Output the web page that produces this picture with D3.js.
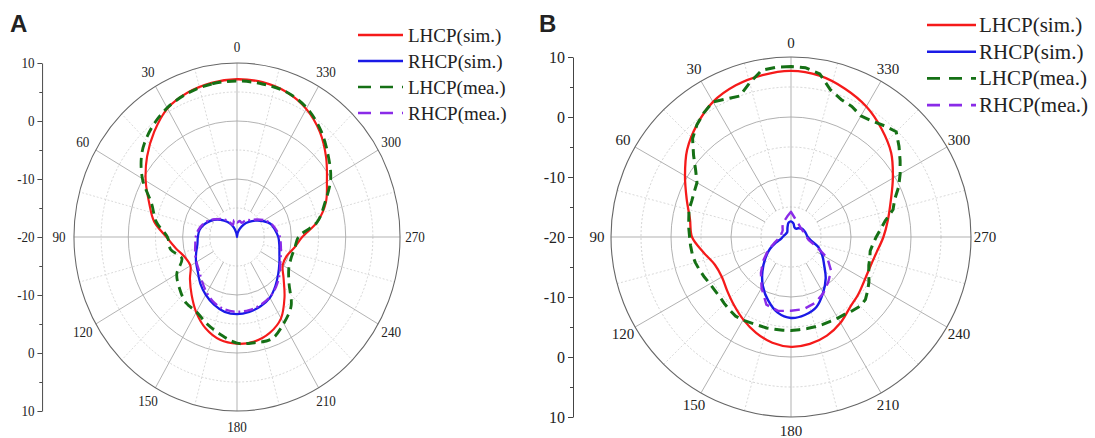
<!DOCTYPE html>
<html>
<head>
<meta charset="utf-8">
<script src="https://cdn.jsdelivr.net/npm/d3@7"></script>
<style>
  body { margin: 0; background: #fff; }
  svg text { font-family: "Liberation Serif", "Times New Roman", serif; fill: #222; }
</style>
</head>
<body>
<svg id="chart" width="1095" height="438"></svg>
<script>
// ---- data (angle in degrees, gain in dB) ----
const angles10 = [0,10,20,30,40,50,60,70,80,90,100,110,120,130,140,150,160,170,
                  180,190,200,210,220,230,240,250,260,270,280,290,300,310,320,330,340,350];
const angles5 = [0,5,10,15,20,25,30,35,40,45,50,55,60,65,70,75,80,85,90,95,100,105,110,115,
                 120,125,130,135,140,145,150,155,160,165,170,175,180,185,190,195,200,205,210,215,
                 220,225,230,235,240,245,250,255,260,265,270,275,280,285,290,295,300,305,310,315,
                 320,325,330,335,340,345,350,355];

// panel A
const lhcpSimA = [7.2,7.0,6.5,5.6,3.7,1.6,-0.6,-2.8,-4.5,-7.0,-8.6,-9.8,-10.1,-8.7,-7.0,-5.0,-3.2,-2.0,
                  -1.6,-1.7,-2.4,-3.8,-6.4,-8.8,-10.3,-10.3,-9.3,-8.0,-5.0,-2.6,-0.9,1.4,3.7,5.5,6.6,7.1];
const rhcpSimA = [-20,-19.3,-18.2,-17.2,-16.3,-15.3,-14.4,-13.6,-13.0,-12.8,-12.6,-12.0,-11.3,-10.6,-9.5,-8.5,-7.6,-6.9,
                  -6.7,-6.9,-7.3,-7.9,-9.0,-10.1,-11.0,-11.7,-12.1,-12.4,-12.9,-13.4,-14.5,-15.6,-16.6,-17.5,-18.5,-19.3];
const lhcpMeaA = [6.9,6.8,6.4,5.7,4.5,2.8,0.1,-3.3,-4.9,-7.2,-7.6,-9.2,-7.2,-6.2,-5.3,-5.1,-4.0,-2.9,
                  -1.7,-1.5,-1.3,-2.8,-4.5,-7.5,-9.0,-9.4,-9.2,-8.7,-5.0,-2.8,-0.1,1.9,4.0,5.7,6.6,6.8];
const rhcpMeaA = [-17.5,-17.0,-17.8,-16.8,-16.0,-15.2,-14.2,-13.4,-12.8,-12.4,-12.2,-11.8,-11.4,-10.9,-10.0,-8.9,-7.9,-7.3,
                  -7.1,-7.2,-7.5,-8.0,-8.8,-9.8,-10.8,-11.4,-11.8,-12.1,-12.7,-13.3,-14.2,-15.3,-16.2,-16.6,-17.4,-17.2];

// panel B
const lhcpSimB = [7.7,7.4,6.9,6.0,4.4,2.6,0.4,-1.5,-2.9,-3.5,-5.2,-6.5,-6.7,-6.1,-5.2,-4.1,-3.0,-2.1,
                  -1.7,-1.9,-2.5,-3.5,-4.7,-5.3,-5.8,-5.9,-5.5,-4.6,-3.6,-2.3,-0.4,1.8,3.5,5.1,6.3,7.3];
const rhcpSimB = [-17.4,-17.6,-18.3,-18.8,-19.0,-19.0,-19.0,-18.9,-18.8,-18.6,-18.3,-17.4,-15.9,-14.4,-12.6,-10.6,-8.8,-7.2,
                  -6.5,-6.8,-7.6,-9.3,-11.0,-12.8,-14.0,-15.2,-16.6,-17.2,-17.4,-17.5,-17.6,-17.8,-18.1,-18.4,-18.3,-17.7];
const lhcpMeaB = [8.4,8.4,8.2,6.6,5.0,5.4,6.0,5.3,4.4,3.2,1.2,-0.6,-1.9,-2.2,-2.4,-2.4,-2.7,-2.9,
                  -3.1,-3.2,-3.3,-3.5,-3.8,-4.1,-4.4,-4.5,-4.5,-4.3,-4.1,-3.9,-4.0,-4.2,-4.3,-4.3,-4.4,-4.4,
                  -4.4,-4.5,-4.5,-4.5,-4.5,-4.5,-4.4,-4.3,-4.0,-3.7,-3.8,-4.4,-5.0,-5.7,-6.2,-6.4,-6.6,-6.3,
                  -5.8,-5.0,-4.0,-2.4,-1.6,-0.2,1.0,2.2,3.5,4.8,4.2,3.6,3.3,4.0,4.4,5.4,7.6,8.3];
const rhcpMeaB = [-15.8,-16.5,-17.0,-17.3,-17.8,-18.2,-18.3,-18.3,-18.4,-18.2,-17.8,-17.0,-15.6,-14.0,-12.2,-10.2,-8.0,-7.5,
                  -7.7,-7.8,-8.3,-9.2,-10.3,-11.3,-13.0,-15.6,-17.0,-17.4,-17.6,-17.7,-17.8,-17.8,-17.7,-17.5,-17.2,-16.7];

const angleLabels = [0,30,60,90,120,150,180,210,240,270,300,330];
const radialTickLabels = ["10","0","-10","-20","-10","0","10"];
const legendLabels = ["LHCP(sim.)","RHCP(sim.)","LHCP(mea.)","RHCP(mea.)"];

// ---- styles ----
const seriesStyle = [
  { color: "#f51a1a", width: 2.3, dash: null },
  { color: "#1a1ae6", width: 2.4, dash: null },
  { color: "#157015", width: 3,   dash: "10,6" },
  { color: "#8a2be8", width: 2.4, dash: "10,4,2,4" }
];

const panels = [
  {
    name: "A", cx: 237, cy: 237, R: 174, sx: 0.937, axisX: -208,
    labelSize: 14, labelGap: 16, tickSize: 14, nameX: 10,
    legend: { x1: 358, x2: 403, tx: 408, y0: 35, dy: 26, size: 19 },
    series: [
      { ang: angles10, val: lhcpSimA, curve: d3.curveCatmullRomClosed, st: 0 },
      { ang: angles10, val: rhcpSimA, curve: d3.curveCatmullRomClosed, st: 1 },
      { ang: angles10, val: lhcpMeaA, curve: d3.curveCatmullRomClosed, st: 2 },
      { ang: angles10, val: rhcpMeaA, curve: d3.curveCatmullRomClosed, st: 3 }
    ],
    purpleDash: "10,4,2,4"
  },
  {
    name: "B", cx: 791, cy: 237, R: 180, sx: 1, axisX: -218,
    labelSize: 15, labelGap: 14, tickSize: 16, nameX: 539,
    legend: { x1: 927, x2: 976, tx: 979, y0: 25, dy: 26.7, size: 21 },
    series: [
      { ang: angles10, val: lhcpSimB, curve: d3.curveCatmullRomClosed, st: 0 },
      { ang: angles10, val: rhcpSimB, curve: d3.curveCatmullRomClosed, st: 1 },
      { ang: angles5,  val: lhcpMeaB, curve: d3.curveLinearClosed, st: 2 },
      { ang: angles10, val: rhcpMeaB, curve: d3.curveLinearClosed, st: 3 }
    ],
    purpleDash: "10,6"
  }
];

const svg = d3.select("#chart");
const toRad = d => d * Math.PI / 180;

panels.forEach(p => {
  const g = svg.append("g")
    .attr("transform", `translate(${p.cx},${p.cy}) scale(${p.sx},1)`);
  const r = d3.scaleLinear().domain([-20, 10]).range([0, p.R]).clamp(true);

  // grid circles
  const grid = g.append("g").attr("fill", "none");
  [5, -5, -15].forEach(v => grid.append("circle").attr("r", r(v))
    .attr("stroke", "#c8c8c8").attr("stroke-width", 0.8).attr("stroke-dasharray", "2,2"));
  [0, -10].forEach(v => grid.append("circle").attr("r", r(v))
    .attr("stroke", "#a8a8a8").attr("stroke-width", 0.9));

  // spokes every 15 degrees
  d3.range(0, 360, 15).forEach(a => {
    const major = a % 30 === 0;
    const r0 = a % 90 === 0 ? 0 : r(-15);
    grid.append("line")
      .attr("x1", -Math.sin(toRad(a)) * r0).attr("y1", -Math.cos(toRad(a)) * r0)
      .attr("x2", -Math.sin(toRad(a)) * p.R).attr("y2", -Math.cos(toRad(a)) * p.R)
      .attr("stroke", major ? "#a8a8a8" : "#cfcfcf")
      .attr("stroke-width", major ? 0.9 : 0.8)
      .attr("stroke-dasharray", major ? null : "2,2");
  });
  grid.append("circle").attr("r", p.R).attr("stroke", "#666").attr("stroke-width", 1.1);

  // angle labels
  g.selectAll("text.ang").data(angleLabels).join("text")
    .attr("class", "ang")
    .attr("x", d => -Math.sin(toRad(d)) * (p.R + p.labelGap))
    .attr("y", d => -Math.cos(toRad(d)) * (p.R + p.labelGap))
    .attr("text-anchor", "middle").attr("dominant-baseline", "central")
    .style("font-size", p.labelSize + "px")
    .text(d => d);

  // curves
  p.series.forEach(s => {
    const st = seriesStyle[s.st];
    const line = d3.lineRadial()
      .angle(d => -toRad(d[0]))
      .radius(d => r(d[1]))
      .curve(s.curve);
    g.append("path")
      .datum(s.ang.map((a, i) => [a, s.val[i]]))
      .attr("d", line)
      .attr("fill", "none")
      .attr("stroke", st.color)
      .attr("stroke-width", st.width)
      .attr("stroke-linejoin", "round")
      .attr("stroke-dasharray", s.st === 3 ? p.purpleDash : st.dash);
  });

  // left radial axis (major ticks with labels, minor ticks in their own group)
  const y = d3.scaleLinear().domain([0, 6]).range([-p.R, p.R]);
  const ax = g.append("g").attr("transform", `translate(${p.axisX},0)`);
  ax.call(d3.axisLeft(y).tickValues(d3.range(0, 7)).tickFormat((d, i) => radialTickLabels[i])
      .tickSize(5).tickSizeOuter(0).tickPadding(3));
  const axMinor = g.append("g").attr("transform", `translate(${p.axisX},0)`);
  axMinor.call(d3.axisLeft(y).tickValues(d3.range(0.5, 6, 1)).tickFormat("").tickSize(3).tickSizeOuter(0));
  axMinor.select("path.domain").remove();
  g.selectAll("path.domain, .tick line").attr("stroke", "#444");
  ax.selectAll("text").style("font-size", p.tickSize + "px")
    .style("font-family", '"Liberation Serif", serif').attr("fill", "#222");

  // panel letter
  svg.append("text").attr("x", p.nameX).attr("y", 32)
    .style("font-family", '"Liberation Sans", Arial, sans-serif')
    .style("font-weight", "bold").style("font-size", "24px").attr("fill", "#000")
    .text(p.name);

  // legend
  const L = p.legend;
  const leg = svg.append("g");
  legendLabels.forEach((lab, i) => {
    const st = seriesStyle[i];
    const yy = L.y0 + i * L.dy;
    leg.append("line").attr("x1", L.x1).attr("x2", L.x2).attr("y1", yy).attr("y2", yy)
      .attr("stroke", st.color).attr("stroke-width", 2.6)
      .attr("stroke-dasharray", i >= 2 ? "13,9" : null);
    leg.append("text").attr("x", L.tx).attr("y", yy)
      .attr("dominant-baseline", "central")
      .style("font-size", L.size + "px")
      .text(lab);
  });
});
</script>
</body>
</html>
